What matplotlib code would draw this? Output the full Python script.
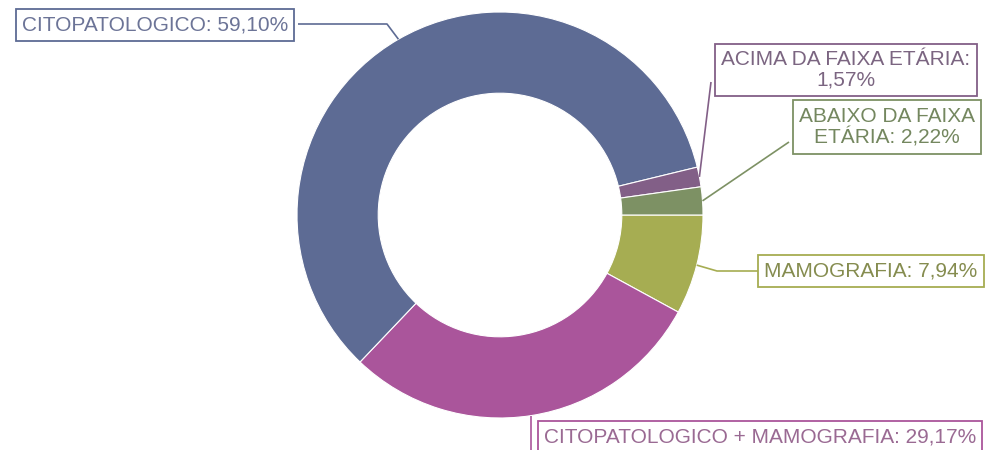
import numpy as np
import matplotlib
matplotlib.use("Agg")
import matplotlib.pyplot as plt

# slices, clockwise from 3 o'clock
labels = ["MAMOGRAFIA: 7,94%",
          "CITOPATOLOGICO + MAMOGRAFIA: 29,17%",
          "CITOPATOLOGICO: 59,10%",
          "ACIMA DA FAIXA ETÁRIA:\n1,57%",
          "ABAIXO DA FAIXA\nETÁRIA: 2,22%"]
values = [7.94, 29.17, 59.10, 1.57, 2.22]
colors = ["#a6ad52", "#aa559b", "#5d6b94", "#825f87", "#7d9164"]
text_colors = ["#858c4f", "#9a6a93", "#6c7497", "#7b6581", "#74875f"]

W, H = 986, 450
fig = plt.figure(figsize=(W / 100, H / 100), dpi=100)
ax = fig.add_axes([0, 0, 1, 1])

cx, cy, R = 500, 235, 203
wedges, _ = ax.pie(values, center=(cx, cy), radius=R, startangle=0,
                   counterclock=False, colors=colors, frame=True,
                   wedgeprops=dict(width=R * 0.4, edgecolor="white", linewidth=0.8))
ax.set_xlim(0, W)
ax.set_ylim(0, H)
ax.set_aspect("equal")
ax.axis("off")

def edge_point(w):
    a = np.deg2rad((w.theta1 + w.theta2) / 2)
    return cx + R * np.cos(a), cy + R * np.sin(a)

# label box position (text centre) and leader path (pixel coords from top)
placements = [
    ((871, 271), [(717, 271), (758, 271)]),
    ((760, 437), [(None, 450)]),
    ((155, 25), [(387, 24), (298, 24)]),
    ((846, 70), [(711, 82)]),
    ((887, 127), [(789, 142)]),
]

plt.rcParams["font.family"] = ["Liberation Sans", "DejaVu Sans"]

for w, lab, col, tcol, (pos, path) in zip(wedges, labels, colors, text_colors, placements):
    x0, y0 = edge_point(w)
    xs, ys = [x0], [y0]
    for px, py in path:
        xs.append(x0 if px is None else px)
        ys.append(H - py)
    ax.plot(xs, ys, color=col, lw=1.2, solid_capstyle="butt")
    ax.text(pos[0], H - pos[1], lab, ha="center", va="center", fontsize=15,
            color=tcol, linespacing=1.1, zorder=5,
            bbox=dict(boxstyle="square,pad=0.3", fc="white", ec=col, lw=1.3))

fig.savefig("out.png", dpi=100)
